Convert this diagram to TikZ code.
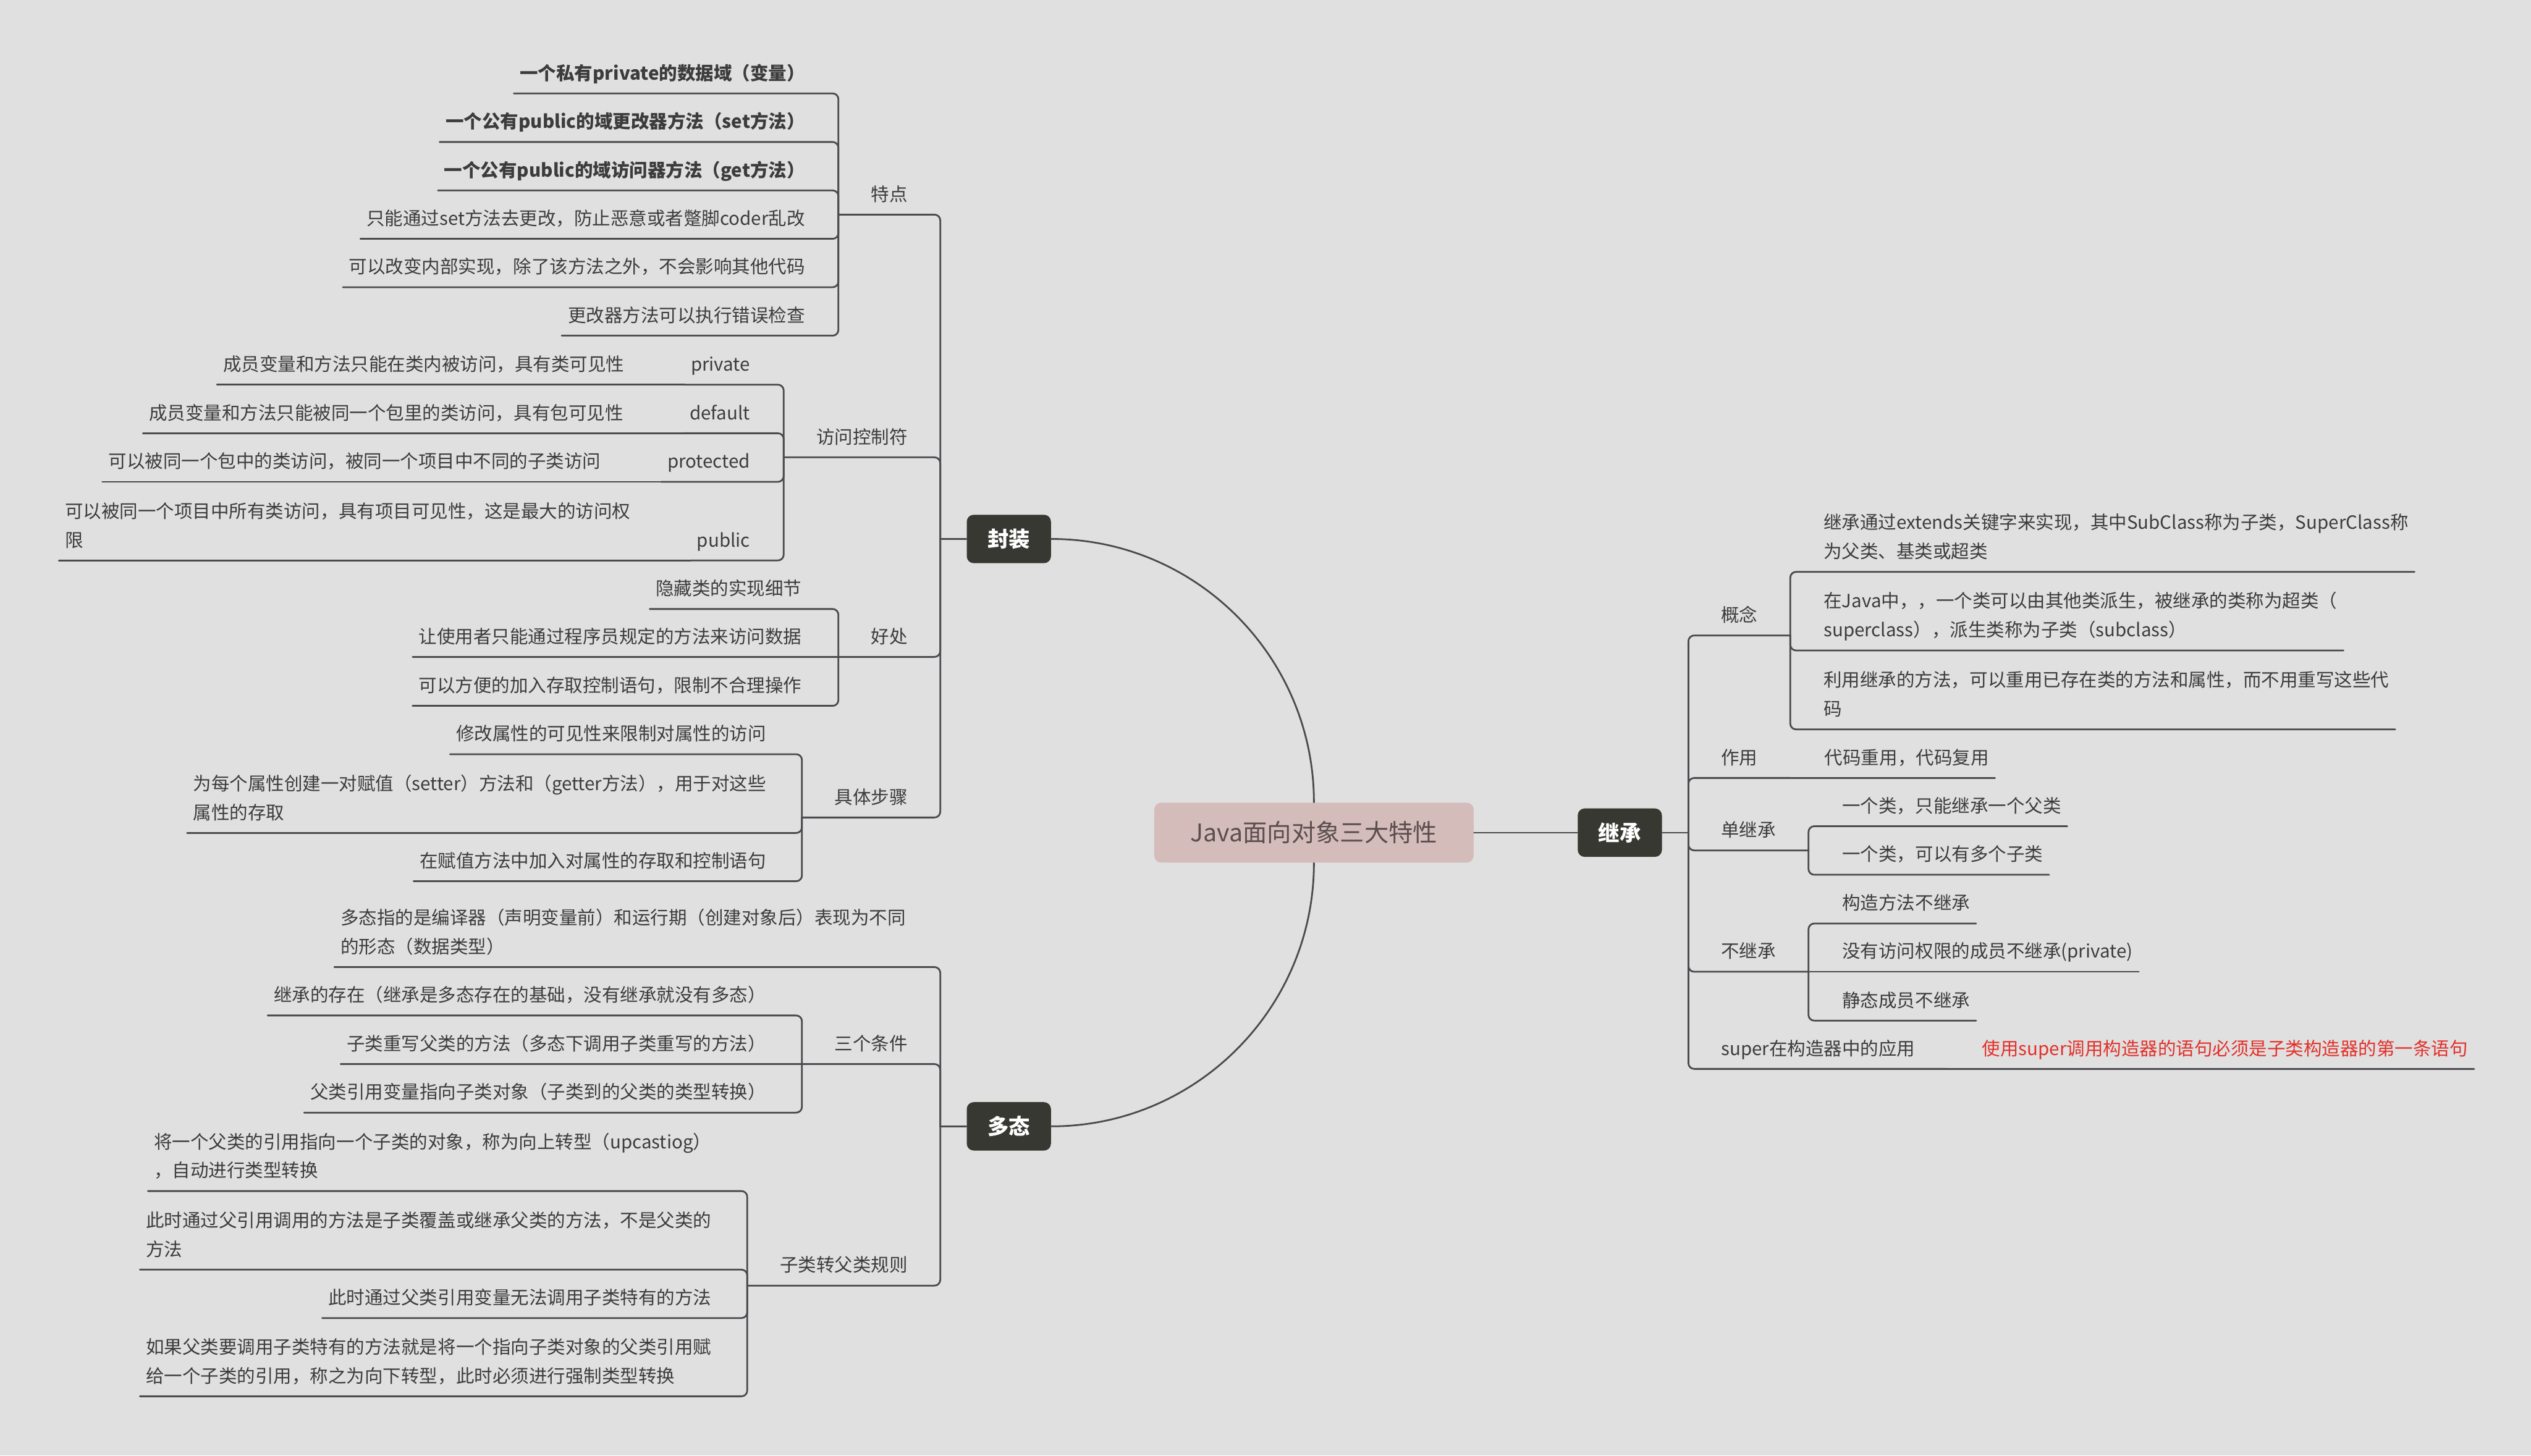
\documentclass[tikz,border=0pt]{standalone}
\usepackage{fontspec}
\setmainfont{Noto Sans CJK SC}
\definecolor{bgclr}{HTML}{E0E0E0}
\definecolor{lineclr}{HTML}{4A4A4F}
\definecolor{txtclr}{HTML}{3C3C3C}
\definecolor{mainclr}{HTML}{383832}
\definecolor{rootclr}{HTML}{D4BCBA}
\definecolor{roottxt}{HTML}{5B4E4E}
\definecolor{redclr}{HTML}{E3302A}
\newcommand{\topicfont}{\fontsize{9}{14.3}\selectfont}
\tikzset{
  mapline/.style={draw=lineclr, line width=0.85pt, rounded corners=0.1cm},
  topic/.style={text=txtclr, font=\topicfont, inner ysep=0.08cm, execute at end node=\strut},
  branch/.style={topic, inner xsep=0.56cm},
  leaf/.style={topic, inner xsep=0.1cm, align=left},
  boldleaf/.style={leaf, font=\topicfont\bfseries},
  mainbox/.style={fill=mainclr, text=white, rounded corners=0.12cm, minimum width=1.46cm, minimum height=0.84cm, font=\fontsize{10.5}{12}\selectfont\bfseries},
  rootbox/.style={fill=rootclr, text=roottxt, rounded corners=0.12cm, minimum width=5.54cm, minimum height=1.04cm, font=\fontsize{12}{14}\selectfont},
}
\begin{document}
\begin{tikzpicture}
% mind map laid out on a pixel grid
\def\px{0.028cm}
\begin{scope}[x=\px, y=-\px, line cap=round, line join=round]
  % Background
  \fill[bgclr] (0,0) rectangle (1568,902);
  \useasboundingbox (0,0) rectangle (1568,902);
  % Root and main topics
  \node[rootbox] (root) at (814,516) {Java面向对象三大特性};
  \node[mainbox] (fz) at (625,334) {封装};
  \node[mainbox] (dt) at (625,698) {多态};
  \node[mainbox] (jc) at (1003.5,516) {继承};
  \draw[mapline] (root.north) to[out=90, in=0] (fz.east);
  \draw[mapline] (root.south) to[out=-90, in=0] (dt.east);
  \draw[mapline] (root.east) -- (jc.west);
  % Encapsulation
  \node[branch, anchor=south east] (td) at (582.5,133) {特点};
  \node[branch, anchor=south east] (fw) at (582.5,283.4) {访问控制符};
  \node[branch, anchor=south east] (hc) at (582.5,407.1) {好处};
  \node[branch, anchor=south east] (bz) at (582.5,506.6) {具体步骤};
  \node[boldleaf, anchor=south east] (td1) at (502.5,57.9) {一个私有private的数据域（变量）};
  \node[boldleaf, anchor=south east] (td2) at (502.5,88) {一个公有public的域更改器方法（set方法）};
  \node[boldleaf, anchor=south east] (td3) at (502.5,118) {一个公有public的域访问器方法（get方法）};
  \node[leaf, anchor=south east] (td4) at (502.5,148) {只能通过set方法去更改，防止恶意或者蹩脚coder乱改};
  \node[leaf, anchor=south east] (td5) at (502.5,178) {可以改变内部实现，除了该方法之外，不会影响其他代码};
  \node[leaf, anchor=south east] (td6) at (502.5,208) {更改器方法可以执行错误检查};
  \node[leaf, anchor=south east] (fw1) at (468.5,238.4) {private};
  \node[leaf, anchor=south east] (fw2) at (468.5,268.5) {default};
  \node[leaf, anchor=south east] (fw3) at (468.5,298.6) {protected};
  \node[leaf, anchor=south east] (fw4) at (468.5,347.3) {public};
  \node[leaf, anchor=south east] (fwd1) at ([xshift=-0.94cm]fw1.south west) {成员变量和方法只能在类内被访问，具有类可见性};
  \node[leaf, anchor=south east] (fwd2) at ([xshift=-0.94cm]fw2.south west) {成员变量和方法只能被同一个包里的类访问，具有包可见性};
  \node[leaf, anchor=south east] (fwd3) at ([xshift=-0.94cm]fw3.south west) {可以被同一个包中的类访问，被同一个项目中不同的子类访问};
  \node[leaf, anchor=south east] (fwd4) at ([xshift=-0.94cm]fw4.south west) {可以被同一个项目中所有类访问，具有项目可见性，这是最大的访问权\\限\strut};
  \node[leaf, anchor=south east] (hc1) at (500.5,377.4) {隐藏类的实现细节};
  \node[leaf, anchor=south east] (hc2) at (500.5,407.1) {让使用者只能通过程序员规定的方法来访问数据};
  \node[leaf, anchor=south east] (hc3) at (500.5,437.4) {可以方便的加入存取控制语句，限制不合理操作};
  \node[leaf, anchor=south east] (bz1) at (478.5,467.4) {修改属性的可见性来限制对属性的访问};
  \node[leaf, anchor=south east] (bz2) at (478.5,516.2) {为每个属性创建一对赋值（setter）方法和（getter方法），用于对这些\\属性的存取\strut};
  \node[leaf, anchor=south east] (bz3) at (478.5,546.1) {在赋值方法中加入对属性的存取和控制语句};
  \coordinate (fzj) at (582.5,334);
  \draw[mapline] (fz.west) -- (fzj);
  \foreach \n in {td,fw,hc,bz} \draw[mapline] (fzj) |- (\n.south west);
  \foreach \n in {td1,td2,td3,td4,td5,td6} \draw[mapline] (td.south west) |- (\n.south west);
  \foreach \n in {1,2,3,4} {
    \draw[mapline] (fw.south west) |- (fw\n.south west);
    \draw[mapline] (fw\n.south west) -- (fwd\n.south west);
  }
  \foreach \n in {hc1,hc3} \draw[mapline] (hc.south west) |- (\n.south west);
  \draw[mapline] (hc.south west) -- (hc2.south west);
  \foreach \n in {bz1,bz2,bz3} \draw[mapline] (bz.south west) |- (\n.south west);
  % Polymorphism
  \node[leaf, anchor=south east] (dtdef) at (565,599.3) {多态指的是编译器（声明变量前）和运行期（创建对象后）表现为不同\\的形态（数据类型）\strut};
  \node[branch, anchor=south east] (sg) at (582.5,659.4) {三个条件};
  \node[branch, anchor=south east] (gz) at (582.5,796.7) {子类转父类规则};
  \node[leaf, anchor=south east] (sg1) at (478.5,629.3) {继承的存在（继承是多态存在的基础，没有继承就没有多态）};
  \node[leaf, anchor=south east] (sg2) at (478.5,659.4) {子类重写父类的方法（多态下调用子类重写的方法）};
  \node[leaf, anchor=south east] (sg3) at (478.5,689.5) {父类引用变量指向子类对象（子类到的父类的类型转换）};
  \node[leaf, anchor=south east] (gz1) at (444.5,738.1) {将一个父类的引用指向一个子类的对象，称为向上转型（upcastiog）\\，自动进行类型转换\strut};
  \node[leaf, anchor=south east] (gz2) at (444.5,786.8) {此时通过父引用调用的方法是子类覆盖或继承父类的方法，不是父类的\\方法\strut};
  \node[leaf, anchor=south east] (gz3) at (444.5,816.8) {此时通过父类引用变量无法调用子类特有的方法};
  \node[leaf, anchor=south east] (gz4) at (444.5,865.3) {如果父类要调用子类特有的方法就是将一个指向子类对象的父类引用赋\\给一个子类的引用，称之为向下转型，此时必须进行强制类型转换\strut};
  \coordinate (dtj) at (582.5,698);
  \draw[mapline] (dt.west) -- (dtj);
  \draw[mapline] (dtj) |- (dtdef.south west);
  \foreach \n in {sg,gz} \draw[mapline] (dtj) |- (\n.south west);
  \foreach \n in {sg1,sg3} \draw[mapline] (sg.south west) |- (\n.south west);
  \draw[mapline] (sg.south west) -- (sg2.south west);
  \foreach \n in {gz1,gz2,gz3,gz4} \draw[mapline] (gz.south west) |- (\n.south west);
  % Inheritance
  \node[branch, anchor=south west] (gn) at (1046,393.8) {概念};
  \node[branch, anchor=south west] (zy) at (1046,482.1) {作用};
  \node[branch, anchor=south west] (dj) at (1046,527) {单继承};
  \node[branch, anchor=south west] (bj) at (1046,602.2) {不继承};
  \node[branch, anchor=south west] (sp) at (1046,662.4) {super在构造器中的应用};
  \node[leaf, anchor=south west] (gn1) at (1126,354.4) {继承通过extends关键字来实现，其中SubClass称为子类，SuperClass称\\为父类、基类或超类\strut};
  \node[leaf, anchor=south west] (gn2) at (1126,403.1) {在Java中，，一个类可以由其他类派生，被继承的类称为超类（\\superclass），派生类称为子类（subclass）\strut};
  \node[leaf, anchor=south west] (gn3) at (1126,452) {利用继承的方法，可以重用已存在类的方法和属性，而不用重写这些代\\码\strut};
  \node[leaf, anchor=south west] (zy1) at ([xshift=0.49cm]zy.south east) {代码重用，代码复用};
  \node[leaf, anchor=south west] (dj1) at (1137.5,512) {一个类，只能继承一个父类};
  \node[leaf, anchor=south west] (dj2) at (1137.5,542.1) {一个类，可以有多个子类};
  \node[leaf, anchor=south west] (bj1) at (1137.5,572.3) {构造方法不继承};
  \node[leaf, anchor=south west] (bj2) at (1137.5,602.2) {没有访问权限的成员不继承(private)};
  \node[leaf, anchor=south west] (bj3) at (1137.5,632.5) {静态成员不继承};
  \node[leaf, anchor=south west, text=redclr] (sp1) at ([xshift=0.49cm]sp.south east) {使用super调用构造器的语句必须是子类构造器的第一条语句};
  \coordinate (jcj) at (1046,516);
  \draw[mapline] (jc.east) -- (jcj);
  \foreach \n in {gn,zy,dj,bj,sp} \draw[mapline] (jcj) |- (\n.south east);
  \foreach \n in {gn1,gn2,gn3} \draw[mapline] (gn.south east) |- (\n.south east);
  \draw[mapline] (zy.south east) -- (zy1.south east);
  \foreach \n in {dj1,dj2} \draw[mapline] (dj.south east) |- (\n.south east);
  \foreach \n in {bj1,bj3} \draw[mapline] (bj.south east) |- (\n.south east);
  \draw[mapline] (bj.south east) -- (bj2.south east);
  \draw[mapline] (sp.south east) -- (sp1.south east);
\end{scope}
\end{tikzpicture}
\end{document}
